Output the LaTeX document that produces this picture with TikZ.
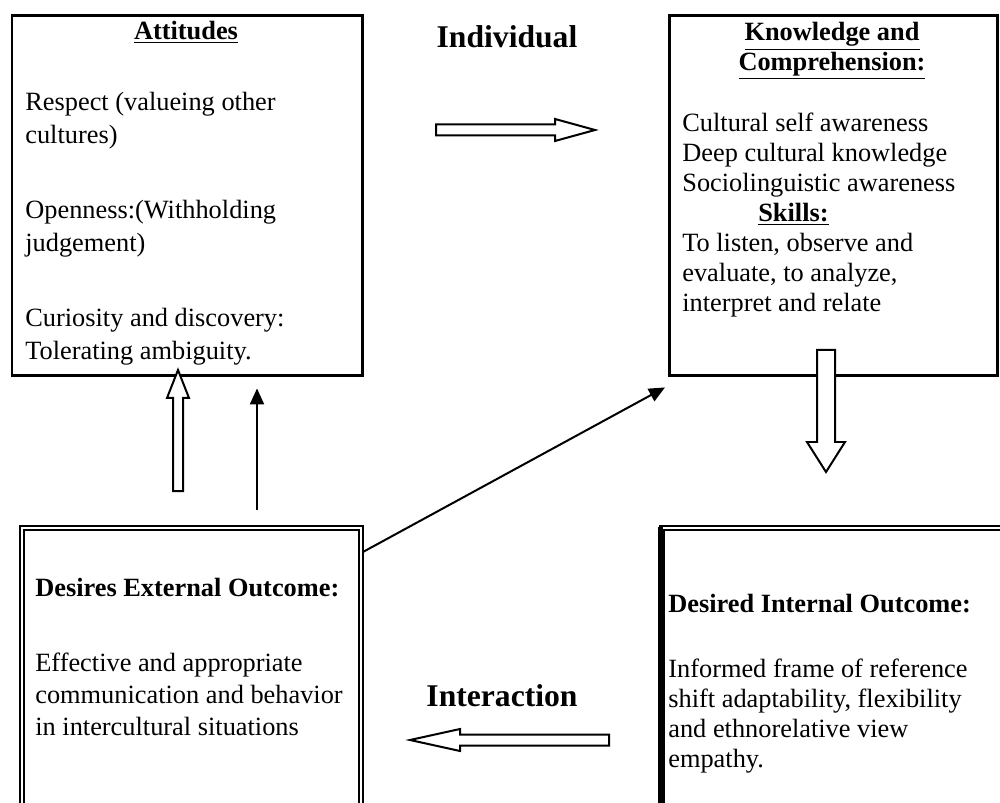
\documentclass[tikz,border=0pt]{standalone}
\usepackage{fontspec}
\setmainfont{Liberation Serif}
\usetikzlibrary{positioning,calc,arrows.meta}

\begin{document}
\begin{tikzpicture}[x=0.02cm, y=-0.02cm,
    every node/.style={font=\fontsize{15}{17}\selectfont, inner sep=0pt},
    plainbox/.style={draw, line width=0.06cm, anchor=north west},
    outbox/.style={draw, line width=0.04cm, double, double distance=0.04cm, anchor=north west},
    bodytext/.style={align=left},
    blockarrow/.style={draw, line width=0.04cm, fill=white, line join=miter},
    linearrow/.style={line width=0.04cm, -{Triangle[length=0.32cm, width=0.28cm]}},
    bigbold/.style={font=\fontsize{18}{21}\selectfont\bfseries}]

    \useasboundingbox (0,0) rectangle (1000,803);

    % Boxes
    \node[plainbox, minimum width=7.01cm, minimum height=7.19cm] (att) at (10.5,14.5) {};
    \node[plainbox, minimum width=6.56cm, minimum height=7.19cm] (know) at (668,14.5) {};
    \node[outbox, minimum width=6.78cm, minimum height=6.2cm] (ext) at (21,527) {};
    \node[outbox, minimum width=7.7cm, minimum height=6.2cm] (int) at (660.5,527) {};
    \draw[line width=0.09cm] (int.north west) -- (int.south west);

    % Attitudes
    \node[anchor=base] (atthead) at (186,40) {\textbf{\underline{Attitudes}}};
    \node[bodytext, font=\fontsize{15}{18.8}\selectfont, below right=1.55cm and 0.29cm of att.north west] (attbody) {Respect (valueing other\\ cultures)\\[0.84cm]
        Openness:(Withholding\\ judgement)\\[0.84cm]
        Curiosity and discovery:\\ Tolerating ambiguity.};

    % Knowledge and skills
    \node[align=center, anchor=north] (knowhead) at (832,22) {\textbf{\underline{Knowledge and}}\\ \textbf{\underline{Comprehension:}}};
    \node[bodytext, below right=1.97cm and 0.28cm of know.north west] (knowbody) {Cultural self awareness\\ Deep cultural knowledge\\ Sociolinguistic awareness\\
        \hspace*{1.52cm}\textbf{\underline{Skills:}}\\ To listen, observe and\\ evaluate, to analyze,\\ interpret and relate};

    % Outcomes
    \node[anchor=base west] (exthead) at (35,596) {\textbf{Desires External Outcome:}};
    \node[bodytext, font=\fontsize{15}{18.1}\selectfont, below right=2.52cm and 0.28cm of ext.north west] (extbody) {Effective and appropriate\\ communication and behavior\\ in intercultural situations};
    \node[anchor=base west] (inthead) at (668,612) {\textbf{Desired Internal Outcome:}};
    \node[bodytext, below right=2.64cm and 0.15cm of int.north west] (intbody) {Informed frame of reference\\ shift adaptability, flexibility\\ and ethnorelative view\\ empathy.};

    % Labels
    \node[bigbold, anchor=base] (indiv) at (507,48) {Individual};
    \node[bigbold, anchor=base] (inter) at (502,706) {Interaction};

    % Block arrows
    \draw[blockarrow] (436,124.5) -- (555,124.5) -- (555,119) -- (595,130) -- (555,141) -- (555,135.5) -- (436,135.5) -- cycle;
    \draw[blockarrow] (817,350) -- (835,350) -- (835,442) -- (845,442) -- (826,472) -- (807,442) -- (817,442) -- cycle;
    \draw[blockarrow] (173,491) -- (173,398) -- (167,398) -- (178,370) -- (189,398) -- (183,398) -- (183,491) -- cycle;
    \draw[blockarrow] (609,734.5) -- (460,734.5) -- (460,729) -- (410,740) -- (460,751) -- (460,745.5) -- (609,745.5) -- cycle;

    % Line arrows
    \coordinate (upx) at (257,0);
    \draw[linearrow, shorten <=0.34cm, shorten >=0.23cm] (ext.north -| upx) -- (att.south -| upx);
    \draw[linearrow] ($(ext.north east)+(1,25)$) -- ($(know.south west)+(-3,10.5)$);
\end{tikzpicture}
\end{document}
